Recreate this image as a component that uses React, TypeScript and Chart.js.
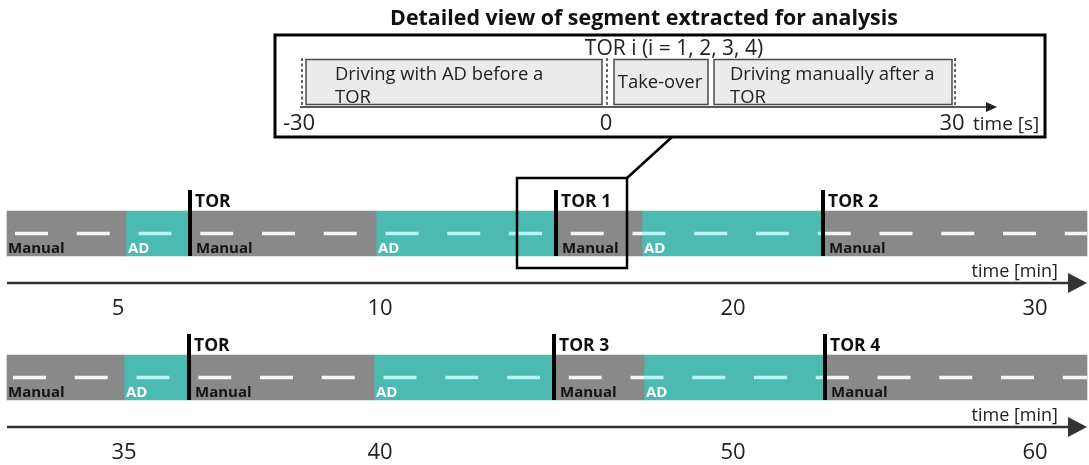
import { useEffect, useRef } from 'react';
import { Chart, registerables } from 'chart.js';

Chart.register(...registerables);

// ---------- data (track positions are schematic units along the drive) ----------
const ROWS = ['Minutes 0–30', 'Minutes 30–60'];

const row1Segments = [
  { mode: 'Manual', from: 7, to: 126 },
  { mode: 'AD', from: 126, to: 190 },
  { mode: 'Manual', from: 190, to: 376 },
  { mode: 'AD', from: 376, to: 556 },
  { mode: 'Manual', from: 556, to: 642 },
  { mode: 'AD', from: 642, to: 823 },
  { mode: 'Manual', from: 823, to: 1087 },
];
const row2Segments = [
  { mode: 'Manual', from: 7, to: 124 },
  { mode: 'AD', from: 124, to: 189 },
  { mode: 'Manual', from: 189, to: 374 },
  { mode: 'AD', from: 374, to: 554 },
  { mode: 'Manual', from: 554, to: 644 },
  { mode: 'AD', from: 644, to: 825 },
  { mode: 'Manual', from: 825, to: 1087 },
];
const row1TORs = [
  { label: 'TOR', at: 190 },
  { label: 'TOR 1', at: 556 },
  { label: 'TOR 2', at: 823 },
];
const row2TORs = [
  { label: 'TOR', at: 189 },
  { label: 'TOR 3', at: 554 },
  { label: 'TOR 4', at: 825 },
];
const row1Ticks = [
  { label: '5', at: 118 },
  { label: '10', at: 380 },
  { label: '20', at: 733 },
  { label: '30', at: 1035 },
];
const row2Ticks = [
  { label: '35', at: 124 },
  { label: '40', at: 380 },
  { label: '50', at: 733 },
  { label: '60', at: 1035 },
];
const axisLabel = 'time [min]';

// detailed view (inset)
const insetTitle = 'Detailed view of segment extracted for analysis';
const insetHeader = 'TOR i (i = 1, 2, 3, 4)';
const insetMarks = [
  { label: '-30', at: 302 },
  { label: '0', at: 607 },
  { label: '30', at: 955 },
];
const insetPhases = [
  { lines: ['Driving with AD before a', 'TOR'], from: 306, to: 602 },
  { lines: ['Take-over'], from: 614, to: 708 },
  { lines: ['Driving manually after a', 'TOR'], from: 714, to: 952 },
];
const insetAxisLabel = 'time [s]';
const highlighted = { row: 0, from: 517, to: 627 };

// ---------- styles / layout ----------
const FONT = '"Open Sans", "Noto Sans", "DejaVu Sans", sans-serif';
const FILL: Record<string, string> = { Manual: '#898989', AD: '#4dbab1' };
const DASH: Record<string, string> = { Manual: '#f5f5f5', AD: '#b3f7f1' };
const ROAD_H = 45;
const DASH_START = [15, 13];
const INSET = { left: 275, right: 1045, top: 35, bottom: 137 };
const INSET_TEXT_X = [335, null, 730];

const rowsData = [
  { segments: row1Segments, tors: row1TORs, ticks: row1Ticks },
  { segments: row2Segments, tors: row2TORs, ticks: row2Ticks },
];

function arrow(ctx: CanvasRenderingContext2D, x0: number, x1: number, y: number, head: number, half: number, lw: number, color: string) {
  ctx.save();
  ctx.strokeStyle = color;
  ctx.fillStyle = color;
  ctx.lineWidth = lw;
  ctx.beginPath();
  ctx.moveTo(x0, y);
  ctx.lineTo(x1 - head + 1, y);
  ctx.stroke();
  ctx.beginPath();
  ctx.moveTo(x1 - head, y - half);
  ctx.lineTo(x1, y);
  ctx.lineTo(x1 - head, y + half);
  ctx.closePath();
  ctx.fill();
  ctx.restore();
}

const diagramPlugin = {
  id: 'diagram',
  afterDatasetsDraw(chart: any) {
    const { ctx } = chart;
    const x = chart.scales.x;
    const y = chart.scales.y;
    rowsData.forEach((row, i) => {
      const cy = y.getPixelForValue(i);
      const top = cy - ROAD_H / 2;
      const bottom = cy + ROAD_H / 2;
      const torSet = new Set(row.tors.map((t) => t.at));
      // centre dashes
      row.segments.forEach((seg) => {
        const x0 = x.getPixelForValue(seg.from);
        const x1 = x.getPixelForValue(seg.to);
        ctx.save();
        ctx.beginPath();
        ctx.rect(x0, top, x1 - x0, ROAD_H);
        ctx.clip();
        ctx.strokeStyle = DASH[seg.mode];
        ctx.lineWidth = 3.5;
        ctx.setLineDash([33, 28.75]);
        ctx.beginPath();
        ctx.moveTo(x.getPixelForValue(DASH_START[i]), cy);
        ctx.lineTo(x.right, cy);
        ctx.stroke();
        ctx.restore();
      });
      // mode labels
      ctx.save();
      ctx.font = `bold 15px ${FONT}`;
      ctx.textAlign = 'left';
      ctx.textBaseline = 'alphabetic';
      row.segments.forEach((seg, k) => {
        const x0 = x.getPixelForValue(seg.from);
        const pad = k === 0 ? 1 : torSet.has(seg.from) ? 6 : 2;
        ctx.fillStyle = seg.mode === 'AD' ? '#ffffff' : '#151515';
        ctx.fillText(seg.mode, x0 + pad, bottom - 3);
      });
      ctx.restore();
      // TOR markers
      ctx.save();
      row.tors.forEach((t) => {
        const xp = x.getPixelForValue(t.at);
        ctx.fillStyle = '#000';
        ctx.fillRect(xp - 2, top - 21, 4, ROAD_H + 21);
        ctx.font = `bold 17.5px ${FONT}`;
        ctx.textAlign = 'left';
        ctx.fillStyle = '#111';
        ctx.fillText(t.label, xp + 5, top - 4);
      });
      ctx.restore();
      // time axis
      const ya = cy + 49.5;
      arrow(ctx, x.getPixelForValue(7), x.getPixelForValue(1087), ya, 19, 10, 2.5, '#333');
      ctx.save();
      ctx.fillStyle = '#222';
      ctx.font = `18px ${FONT}`;
      ctx.textAlign = 'right';
      ctx.fillText(axisLabel, x.getPixelForValue(1058), ya - 6);
      ctx.font = `22px ${FONT}`;
      ctx.textAlign = 'center';
      row.ticks.forEach((t) => {
        ctx.fillText(t.label, x.getPixelForValue(t.at), ya + 32);
      });
      ctx.restore();
    });
  },
  afterDraw(chart: any) {
    const { ctx } = chart;
    const x = chart.scales.x;
    const y = chart.scales.y;
    // highlight box around TOR 1
    const cy = y.getPixelForValue(highlighted.row);
    const hx0 = x.getPixelForValue(highlighted.from);
    const hx1 = x.getPixelForValue(highlighted.to);
    const hTop = cy - 55.5;
    const hBottom = cy + 34.5;
    ctx.save();
    ctx.strokeStyle = '#000';
    ctx.lineWidth = 2.5;
    ctx.strokeRect(hx0, hTop, hx1 - hx0, hBottom - hTop);
    ctx.beginPath();
    ctx.moveTo(hx1, hTop);
    ctx.lineTo(x.getPixelForValue(672), INSET.bottom);
    ctx.stroke();
    ctx.restore();

    // inset frame
    const L = x.getPixelForValue(INSET.left);
    const R = x.getPixelForValue(INSET.right);
    ctx.save();
    ctx.fillStyle = '#fff';
    ctx.fillRect(L, INSET.top, R - L, INSET.bottom - INSET.top);
    ctx.strokeStyle = '#000';
    ctx.lineWidth = 3;
    ctx.strokeRect(L, INSET.top, R - L, INSET.bottom - INSET.top);

    // title
    ctx.fillStyle = '#111';
    ctx.font = `bold 21.4px ${FONT}`;
    ctx.textAlign = 'center';
    ctx.textBaseline = 'alphabetic';
    ctx.fillText(insetTitle, x.getPixelForValue(644), 25);

    // header
    ctx.fillStyle = '#222';
    ctx.font = `21px ${FONT}`;
    ctx.fillText(insetHeader, x.getPixelForValue(674), 55);

    // phase boxes
    const bTop = 59.5;
    const bBottom = 104.5;
    insetPhases.forEach((p, k) => {
      const x0 = x.getPixelForValue(p.from);
      const x1 = x.getPixelForValue(p.to);
      ctx.fillStyle = '#ebebeb';
      ctx.fillRect(x0, bTop, x1 - x0, bBottom - bTop);
      ctx.strokeStyle = '#4a4a4a';
      ctx.lineWidth = 1.5;
      ctx.strokeRect(x0, bTop, x1 - x0, bBottom - bTop);
      ctx.fillStyle = '#222';
      ctx.font = `18.4px ${FONT}`;
      const tx = INSET_TEXT_X[k];
      if (p.lines.length === 1 || tx === null) {
        ctx.textAlign = 'center';
        ctx.textBaseline = 'middle';
        ctx.fillText(p.lines[0], (x0 + x1) / 2 - 1, (bTop + bBottom) / 2 + 1);
        ctx.textBaseline = 'alphabetic';
      } else {
        ctx.textAlign = 'left';
        p.lines.forEach((ln, j) => {
          ctx.fillText(ln, x.getPixelForValue(tx), 80 + j * 23);
        });
      }
    });

    // dotted boundaries
    ctx.strokeStyle = '#333';
    ctx.lineWidth = 1.5;
    ctx.setLineDash([3, 2.5]);
    insetMarks.forEach((m) => {
      const xp = x.getPixelForValue(m.at);
      ctx.beginPath();
      ctx.moveTo(xp, 58);
      ctx.lineTo(xp, 107);
      ctx.stroke();
    });
    ctx.setLineDash([]);
    ctx.restore();

    // inset axis
    arrow(ctx, x.getPixelForValue(300), x.getPixelForValue(997), 107, 11, 5, 1.6, '#222');
    ctx.save();
    ctx.fillStyle = '#222';
    ctx.font = `22px ${FONT}`;
    ctx.textAlign = 'center';
    insetMarks.forEach((m, k) => {
      const off = k === 0 ? -3 : k === 2 ? -3 : -1;
      ctx.fillText(m.label, x.getPixelForValue(m.at) + off, 130);
    });
    ctx.font = `19px ${FONT}`;
    ctx.textAlign = 'left';
    ctx.fillText(insetAxisLabel, x.getPixelForValue(973), 130);
    ctx.restore();
  },
};

export default function App() {
  const ref = useRef<HTMLCanvasElement | null>(null);
  useEffect(() => {
    document.body.style.margin = '0';
    const canvas = ref.current;
    if (!canvas) return;
    const toData = (mode: string) => {
      const out: any[] = [];
      rowsData.forEach((row, i) => {
        row.segments
          .filter((s) => s.mode === mode)
          .forEach((s) => out.push({ y: ROWS[i], x: [s.from, s.to] }));
      });
      return out;
    };
    const chart = new Chart(canvas, {
      type: 'bar',
      data: {
        labels: ROWS,
        datasets: ['Manual', 'AD'].map((mode) => ({
          label: mode,
          data: toData(mode),
          backgroundColor: FILL[mode],
          borderWidth: 0,
          borderSkipped: false,
          barThickness: ROAD_H,
          grouped: false,
        })),
      } as any,
      options: {
        indexAxis: 'y',
        animation: false,
        responsive: false,
        maintainAspectRatio: false,
        devicePixelRatio: 1,
        layout: { padding: { top: 161.5, bottom: 15.5, left: 0, right: 0 } },
        scales: {
          x: { type: 'linear', min: 0, max: 1089, display: false },
          y: { type: 'category', display: false, offset: true },
        },
        plugins: {
          legend: { display: false },
          title: { display: false },
          tooltip: { enabled: false },
        },
        events: [],
      } as any,
      plugins: [diagramPlugin],
    });
    return () => chart.destroy();
  }, []);
  return (
    <div style={{ width: 1089, height: 465, background: '#fff' }}>
      <canvas ref={ref} width={1089} height={465} style={{ display: 'block' }} />
    </div>
  );
}
